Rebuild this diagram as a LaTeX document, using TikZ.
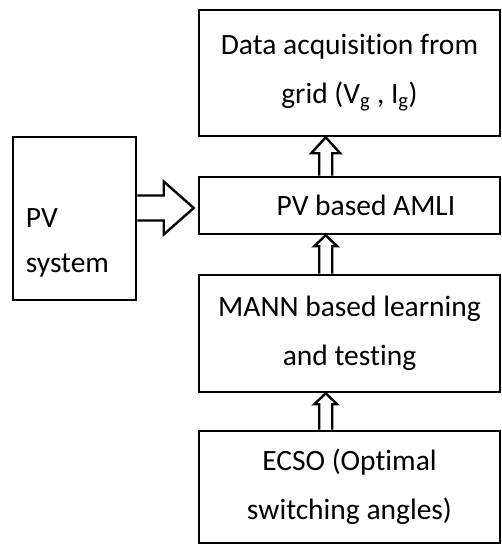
\documentclass[tikz,border=0pt]{standalone}
\usepackage{fontspec}
\setmainfont{Carlito}[RawFeature=-liga]
\usepackage{tikz}
\usetikzlibrary{positioning,calc}

\tikzset{
  blockbox/.style={draw=black,line width=2.6pt,align=center,inner sep=0pt,
    font=\fontsize{29.5}{49}\selectfont},
  boxtext/.style={align=left,inner sep=0pt,font=\fontsize{29.5}{45}\selectfont},
  fatarrow/.style={draw=black,fill=white,line width=2.4pt,line join=miter}
}

% hollow arrow pointing up: #1 foot, #2 tip, #3 head length, #4 half head width
\newcommand{\fatup}[4]{%
  \draw[fatarrow] ($(#1)+(-6.5,0)$) -- ($(#2)+(-6.5,-#3)$) -- ($(#2)+(-#4,-#3)$) -- (#2)
    -- ($(#2)+(#4,-#3)$) -- ($(#2)+(6.5,-#3)$) -- ($(#1)+(6.5,0)$);}

\begin{document}
\begin{tikzpicture}[x=1pt,y=1pt]
\path[use as bounding box,fill=white] (0,0) rectangle (502,545);

\node[blockbox,minimum width=301pt,minimum height=126pt] (grid) at (349.5,472)
  {Data acquisition from\\grid (V\textsubscript{g} , I\textsubscript{g})};

\node[blockbox,minimum width=301pt,minimum height=57pt] (amli) at (349.5,339.5)
  {\hspace*{33pt}PV based AMLI};

\node[blockbox,minimum width=301pt,minimum height=117pt] (mann) at (349.5,211.5)
  {MANN based learning\\and testing};

\node[blockbox,minimum width=301pt,minimum height=112pt] (ecso) at (349.5,58)
  {ECSO (Optimal\\switching angles)};

\node[blockbox,minimum width=123pt,minimum height=163pt] (pv) at (74.5,326.5) {};
\node[boxtext,anchor=west] (pvtext) at ([xshift=14pt,yshift=-24pt]pv.west) {PV\\system};

% vertical arrows
\coordinate (a1) at ($(amli.north west)+(128,0)$);
\coordinate (t1) at ($(grid.south west)+(128,0)$);
\fatup{a1}{t1}{16}{14.5}

\coordinate (a2) at ($(mann.north west)+(128,0)$);
\coordinate (t2) at ($(amli.south west)+(128,0)$);
\fatup{a2}{t2}{11}{11.5}

\coordinate (a3) at ($(ecso.north west)+(128,0)$);
\coordinate (t3) at ($(mann.south west)+(128,0)$);
\fatup{a3}{t3}{11}{11.5}

% arrow from PV system
\coordinate (s4) at ($(pv.east)+(0,10.5)$);
\coordinate (t4) at ($(amli.west)+(-4,-2.5)$);
\draw[fatarrow] ($(s4)+(0,12.5)$) -- ($(t4)+(-30,12.5)$) -- ($(t4)+(-30,26.5)$) -- (t4)
  -- ($(t4)+(-30,-26.5)$) -- ($(t4)+(-30,-12.5)$) -- ($(s4)+(0,-12.5)$);
\end{tikzpicture}
\end{document}
